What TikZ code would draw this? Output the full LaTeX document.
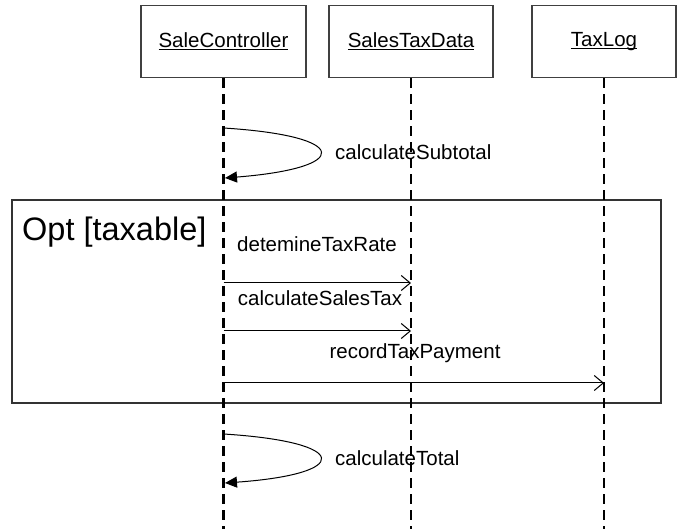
\documentclass[tikz,border=0pt]{standalone}
\usepackage{fontspec}
\setmainfont{Liberation Sans}
\usetikzlibrary{arrows.meta}

% underlined object name with a fixed rule just below the baseline
\newcommand\ulname[1]{\setbox0\hbox{#1}\rlap{\rule[-2.6pt]{\wd0}{1.1pt}}\box0}

\begin{document}
\begin{tikzpicture}[x=1pt,y=-1pt,
  font=\fontsize{20.5}{24}\selectfont,
  object/.style={draw=black!75, line width=1.4pt, minimum height=72pt,
    inner sep=0pt, anchor=north},
  lifeline/.style={line width=2.3pt, dash pattern=on 10pt off 6pt},
  msg/.style={line width=1pt, -{Straight Barb[length=9pt,width=15pt,line width=1pt]}},
  selfmsg/.style={line width=1pt, -{Triangle[length=12pt,width=11pt]}},
  msglabel/.style={inner sep=0pt, anchor=base},
  frame/.style={draw=black!80, line width=1.6pt}]
\useasboundingbox (0,0) rectangle (678,529);

% objects
\node[object, minimum width=165pt] (sc)  at (223.5,5) {\ulname{SaleController}};
\node[object, minimum width=164pt] (std) at (411,5)   {\ulname{SalesTaxData}};
\node[object, minimum width=144pt] (tl)  at (604,5)   {\ulname{TaxLog}};

% lifeline ends
\coordinate (scEnd)  at (223.5,529);
\coordinate (stdEnd) at (411,529);
\coordinate (tlEnd)  at (604,529);

% optional fragment
\draw[frame] (12,200) rectangle (661,403);
\node[anchor=base west, inner sep=0pt, font=\fontsize{32.5}{38}\selectfont] (opt) at (22,241) {Opt [taxable]};

\draw[lifeline] (sc.south) -- (scEnd);
\draw[lifeline] (std.south) -- (stdEnd);
\draw[lifeline] (tl.south) -- (tlEnd);

% self call: calculateSubtotal
\coordinate (s1a) at (223.5,128);
\coordinate (s1b) at (225,178);
\draw[selfmsg] (s1a) .. controls (352,136) and (352,168) .. (s1b);
\node[msglabel, anchor=base west] (l1) at (335,160) {calculateSubtotal};

% messages inside the fragment
\coordinate (m1a) at (223.5,283);
\coordinate (m1b) at (411,283);
\draw[msg] (m1a) -- (m1b);
\node[msglabel] (l2) at (317,252) {detemineTaxRate};

\coordinate (m2a) at (223.5,331);
\coordinate (m2b) at (411,331);
\draw[msg] (m2a) -- (m2b);
\node[msglabel] (l3) at (320,306) {calculateSalesTax};

\coordinate (m3a) at (223.5,383);
\coordinate (m3b) at (604,383);
\draw[msg] (m3a) -- (m3b);
\node[msglabel] (l4) at (415,359) {recordTaxPayment};

% self call: calculateTotal
\coordinate (s2a) at (223.5,434);
\coordinate (s2b) at (225,483);
\draw[selfmsg] (s2a) .. controls (352,442) and (352,474) .. (s2b);
\node[msglabel, anchor=base west] (l5) at (335,466) {calculateTotal};
\end{tikzpicture}
\end{document}
